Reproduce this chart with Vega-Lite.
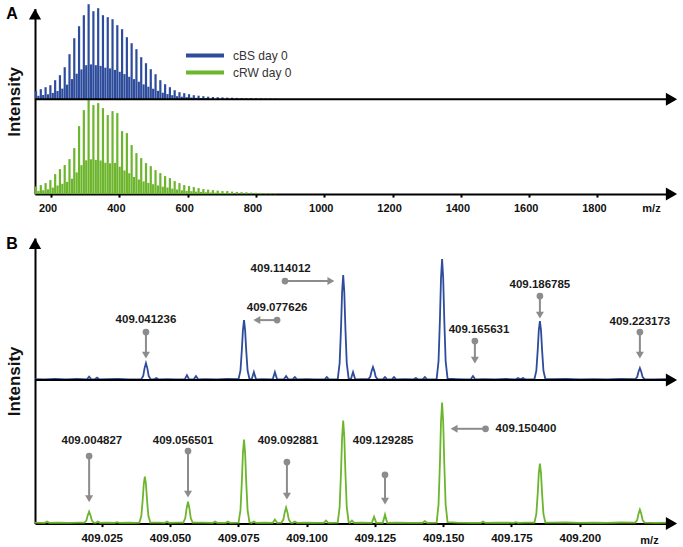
{
"$schema": "https://vega.github.io/schema/vega-lite/v6.json",
"background": "white",
"padding": {"left": 5, "top": 2.6, "right": 0, "bottom": 0},
"spacing": 43.5,
"bounds": "flush",
"config": {"view": {"stroke": null}, "font": "Liberation Sans", "axis": {"grid": false}},
"datasets": {
"cbsA": [
{"mz":156,"intensity":8},{"mz":170,"intensity":10},{"mz":184,"intensity":12},{"mz":198,"intensity":14},{"mz":212,"intensity":19},{"mz":226,"intensity":24},{"mz":240,"intensity":32},{"mz":254,"intensity":45},{"mz":268,"intensity":61},{"mz":282,"intensity":73},{"mz":296,"intensity":84},{"mz":310,"intensity":95},{"mz":324,"intensity":88},{"mz":338,"intensity":91},{"mz":352,"intensity":84},{"mz":366,"intensity":82},{"mz":380,"intensity":80},{"mz":394,"intensity":74},{"mz":408,"intensity":70},{"mz":422,"intensity":62},{"mz":436,"intensity":56},{"mz":450,"intensity":50},{"mz":464,"intensity":42},{"mz":478,"intensity":36},{"mz":492,"intensity":30},{"mz":506,"intensity":25},{"mz":520,"intensity":19},{"mz":534,"intensity":15},{"mz":548,"intensity":12},{"mz":562,"intensity":9},{"mz":576,"intensity":7},{"mz":590,"intensity":6},{"mz":604,"intensity":5},{"mz":618,"intensity":4},{"mz":632,"intensity":3.5},{"mz":646,"intensity":3},{"mz":660,"intensity":2.5},{"mz":674,"intensity":2.2},{"mz":688,"intensity":2},{"mz":702,"intensity":1.8},{"mz":716,"intensity":1.6},{"mz":730,"intensity":1.5},{"mz":744,"intensity":1.3},{"mz":758,"intensity":1.2},{"mz":772,"intensity":1},{"mz":786,"intensity":1},{"mz":800,"intensity":0.9},{"mz":814,"intensity":0.8},{"mz":828,"intensity":0.7},{"mz":842,"intensity":0.6},{"mz":856,"intensity":0.5},
{"mz":163,"intensity":3.4},{"mz":177,"intensity":4.2},{"mz":191,"intensity":4.9},{"mz":205,"intensity":6.3},{"mz":219,"intensity":8.2},{"mz":233,"intensity":10.6},{"mz":247,"intensity":14.6},{"mz":261,"intensity":20.1},{"mz":275,"intensity":25.5},{"mz":289,"intensity":29.8},{"mz":303,"intensity":34},{"mz":317,"intensity":34.8},{"mz":331,"intensity":34},{"mz":345,"intensity":33.3},{"mz":359,"intensity":31.5},{"mz":373,"intensity":30.8},{"mz":387,"intensity":29.3},{"mz":401,"intensity":27.4},{"mz":415,"intensity":25.1},{"mz":429,"intensity":22.4},{"mz":443,"intensity":20.1},{"mz":457,"intensity":17.5},{"mz":471,"intensity":14.8},{"mz":485,"intensity":12.5},{"mz":499,"intensity":10.5},{"mz":513,"intensity":8.4},{"mz":527,"intensity":6.5},{"mz":541,"intensity":5.1},{"mz":555,"intensity":4},{"mz":569,"intensity":3},{"mz":583,"intensity":2.5},{"mz":597,"intensity":2.1},{"mz":611,"intensity":1.7},{"mz":625,"intensity":1.4},{"mz":639,"intensity":1.2},{"mz":653,"intensity":1}
],
"crwA": [
{"mz":156,"intensity":7.7},{"mz":170,"intensity":9},{"mz":184,"intensity":11},{"mz":198,"intensity":14},{"mz":212,"intensity":20},{"mz":226,"intensity":25},{"mz":240,"intensity":29},{"mz":254,"intensity":35},{"mz":268,"intensity":46},{"mz":282,"intensity":68},{"mz":296,"intensity":84},{"mz":310,"intensity":94},{"mz":324,"intensity":89},{"mz":338,"intensity":91},{"mz":352,"intensity":86},{"mz":366,"intensity":79},{"mz":380,"intensity":83},{"mz":394,"intensity":81},{"mz":408,"intensity":63},{"mz":422,"intensity":61},{"mz":436,"intensity":49},{"mz":450,"intensity":41},{"mz":464,"intensity":36},{"mz":478,"intensity":31},{"mz":492,"intensity":28},{"mz":506,"intensity":24},{"mz":520,"intensity":21},{"mz":534,"intensity":18},{"mz":548,"intensity":16},{"mz":562,"intensity":13},{"mz":576,"intensity":11},{"mz":590,"intensity":9},{"mz":604,"intensity":8},{"mz":618,"intensity":7},{"mz":632,"intensity":6},{"mz":646,"intensity":5},{"mz":660,"intensity":4.5},{"mz":674,"intensity":4},{"mz":688,"intensity":3.5},{"mz":702,"intensity":3},{"mz":716,"intensity":3},{"mz":730,"intensity":2.5},{"mz":744,"intensity":2.2},{"mz":758,"intensity":2},{"mz":772,"intensity":1.8},{"mz":786,"intensity":1.5},{"mz":800,"intensity":1.3},{"mz":814,"intensity":1.2},{"mz":828,"intensity":1},{"mz":842,"intensity":1},{"mz":856,"intensity":0.8},
{"mz":163,"intensity":3.2},{"mz":177,"intensity":3.8},{"mz":191,"intensity":4.8},{"mz":205,"intensity":6.5},{"mz":219,"intensity":8.6},{"mz":233,"intensity":10.3},{"mz":247,"intensity":12.2},{"mz":261,"intensity":15.4},{"mz":275,"intensity":21.7},{"mz":289,"intensity":28.9},{"mz":303,"intensity":33.8},{"mz":317,"intensity":34.8},{"mz":331,"intensity":34.2},{"mz":345,"intensity":33.6},{"mz":359,"intensity":31.4},{"mz":373,"intensity":30.8},{"mz":387,"intensity":31.2},{"mz":401,"intensity":27.4},{"mz":415,"intensity":23.6},{"mz":429,"intensity":20.9},{"mz":443,"intensity":17.1},{"mz":457,"intensity":14.6},{"mz":471,"intensity":12.7},{"mz":485,"intensity":11.2},{"mz":499,"intensity":9.9},{"mz":513,"intensity":8.6},{"mz":527,"intensity":7.4},{"mz":541,"intensity":6.5},{"mz":555,"intensity":5.5},{"mz":569,"intensity":4.6},{"mz":583,"intensity":3.8},{"mz":597,"intensity":3.2},{"mz":611,"intensity":2.9},{"mz":625,"intensity":2.5},{"mz":639,"intensity":2.1},{"mz":653,"intensity":1.8},{"mz":667,"intensity":1.6},{"mz":681,"intensity":1.4},{"mz":695,"intensity":1.2},{"mz":709,"intensity":1.1},{"mz":723,"intensity":1}
],
"cbsB": [
{"mz":409.0006,"intensity":1},{"mz":409.0040,"intensity":0.7},{"mz":409.0080,"intensity":1.1},{"mz":409.0120,"intensity":0.8},{"mz":409.0160,"intensity":1.1},{"mz":409.0196,"intensity":0.8},{"mz":409.0204,"intensity":3.5},{"mz":409.0212,"intensity":0.8},{"mz":409.0225,"intensity":0.8},{"mz":409.0233,"intensity":2.5},{"mz":409.0241,"intensity":0.8},{"mz":409.0270,"intensity":0.9},{"mz":409.0310,"intensity":1.2},{"mz":409.0350,"intensity":0.8},{"mz":409.0395,"intensity":1},{"mz":409.0402,"intensity":4.2},{"mz":409.0407,"intensity":12},{"mz":409.0412,"intensity":17},{"mz":409.0417,"intensity":12},{"mz":409.0422,"intensity":4.2},{"mz":409.0429,"intensity":1},{"mz":409.0442,"intensity":0.8},{"mz":409.0450,"intensity":2},{"mz":409.0458,"intensity":0.8},{"mz":409.0490,"intensity":1},{"mz":409.0520,"intensity":0.7},{"mz":409.0554,"intensity":0.8},{"mz":409.0562,"intensity":5},{"mz":409.0570,"intensity":0.8},{"mz":409.0587,"intensity":0.8},{"mz":409.0595,"intensity":4},{"mz":409.0603,"intensity":0.8},{"mz":409.0630,"intensity":1},{"mz":409.0670,"intensity":0.8},{"mz":409.0710,"intensity":1.1},{"mz":409.0751,"intensity":1},{"mz":409.0758,"intensity":9.6},{"mz":409.0763,"intensity":30},{"mz":409.0767,"intensity":50},{"mz":409.0771,"intensity":60},{"mz":409.0775,"intensity":50},{"mz":409.0779,"intensity":30},{"mz":409.0784,"intensity":9.6},{"mz":409.0791,"intensity":1.2},{"mz":409.0799,"intensity":0.8},{"mz":409.0807,"intensity":8},{"mz":409.0815,"intensity":0.8},{"mz":409.0840,"intensity":1},{"mz":409.0876,"intensity":0.8},{"mz":409.0884,"intensity":8},{"mz":409.0892,"intensity":0.8},{"mz":409.0917,"intensity":0.8},{"mz":409.0925,"intensity":4},{"mz":409.0933,"intensity":0.8},{"mz":409.0949,"intensity":0.8},{"mz":409.0957,"intensity":3},{"mz":409.0965,"intensity":0.8},{"mz":409.1000,"intensity":1},{"mz":409.1030,"intensity":0.8},{"mz":409.1066,"intensity":0.8},{"mz":409.1074,"intensity":3},{"mz":409.1082,"intensity":0.8},{"mz":409.1114,"intensity":1},{"mz":409.1121,"intensity":17},{"mz":409.1126,"intensity":52},{"mz":409.1130,"intensity":88},{"mz":409.1134,"intensity":105},{"mz":409.1138,"intensity":88},{"mz":409.1142,"intensity":52},{"mz":409.1147,"intensity":17},{"mz":409.1154,"intensity":1.5},{"mz":409.1162,"intensity":0.8},{"mz":409.1170,"intensity":8},{"mz":409.1178,"intensity":0.8},{"mz":409.1200,"intensity":1},{"mz":409.1226,"intensity":1},{"mz":409.1233,"intensity":3.3},{"mz":409.1238,"intensity":9},{"mz":409.1243,"intensity":13},{"mz":409.1248,"intensity":9},{"mz":409.1253,"intensity":3.3},{"mz":409.1260,"intensity":1},{"mz":409.1279,"intensity":0.8},{"mz":409.1287,"intensity":3},{"mz":409.1295,"intensity":0.8},{"mz":409.1312,"intensity":0.8},{"mz":409.1320,"intensity":3},{"mz":409.1328,"intensity":0.8},{"mz":409.1360,"intensity":1},{"mz":409.1392,"intensity":0.8},{"mz":409.1400,"intensity":2},{"mz":409.1408,"intensity":0.8},{"mz":409.1425,"intensity":0.8},{"mz":409.1433,"intensity":3},{"mz":409.1441,"intensity":0.8},{"mz":409.1476,"intensity":1},{"mz":409.1483,"intensity":19},{"mz":409.1488,"intensity":60},{"mz":409.1492,"intensity":102},{"mz":409.1496,"intensity":121},{"mz":409.1500,"intensity":102},{"mz":409.1504,"intensity":60},{"mz":409.1509,"intensity":19},{"mz":409.1516,"intensity":1.5},{"mz":409.1550,"intensity":1},{"mz":409.1580,"intensity":0.7},{"mz":409.1601,"intensity":0.8},{"mz":409.1609,"intensity":4},{"mz":409.1617,"intensity":0.8},{"mz":409.1650,"intensity":1},{"mz":409.1690,"intensity":0.8},{"mz":409.1730,"intensity":1.1},{"mz":409.1766,"intensity":0.8},{"mz":409.1774,"intensity":2},{"mz":409.1783,"intensity":0.8},{"mz":409.1792,"intensity":2},{"mz":409.1800,"intensity":0.8},{"mz":409.1834,"intensity":1},{"mz":409.1841,"intensity":9.4},{"mz":409.1846,"intensity":30},{"mz":409.1850,"intensity":50},{"mz":409.1854,"intensity":59},{"mz":409.1858,"intensity":50},{"mz":409.1862,"intensity":30},{"mz":409.1867,"intensity":9.4},{"mz":409.1874,"intensity":1},{"mz":409.1900,"intensity":0.9},{"mz":409.1950,"intensity":1.2},{"mz":409.2000,"intensity":0.8},{"mz":409.2050,"intensity":1},{"mz":409.2100,"intensity":0.8},{"mz":409.2150,"intensity":1.1},{"mz":409.2203,"intensity":1},{"mz":409.2210,"intensity":3},{"mz":409.2215,"intensity":8.4},{"mz":409.2220,"intensity":12},{"mz":409.2225,"intensity":8.4},{"mz":409.2230,"intensity":3},{"mz":409.2237,"intensity":1},{"mz":409.2270,"intensity":0.8},{"mz":409.2310,"intensity":1},{"mz":409.2336,"intensity":0.8}
],
"crwB": [
{"mz":409.0006,"intensity":1},{"mz":409.0030,"intensity":0.8},{"mz":409.0042,"intensity":0.8},{"mz":409.0050,"intensity":2},{"mz":409.0058,"intensity":0.8},{"mz":409.0090,"intensity":1},{"mz":409.0130,"intensity":0.8},{"mz":409.0170,"intensity":1},{"mz":409.0187,"intensity":1},{"mz":409.0194,"intensity":3},{"mz":409.0199,"intensity":8.4},{"mz":409.0204,"intensity":12},{"mz":409.0209,"intensity":8.4},{"mz":409.0214,"intensity":3},{"mz":409.0221,"intensity":1},{"mz":409.0228,"intensity":0.8},{"mz":409.0236,"intensity":2},{"mz":409.0244,"intensity":0.8},{"mz":409.0270,"intensity":1},{"mz":409.0298,"intensity":0.8},{"mz":409.0306,"intensity":1.5},{"mz":409.0314,"intensity":0.8},{"mz":409.0350,"intensity":1},{"mz":409.0375,"intensity":0.8},{"mz":409.0388,"intensity":1},{"mz":409.0395,"intensity":7.5},{"mz":409.0400,"intensity":23.5},{"mz":409.0404,"intensity":39.5},{"mz":409.0408,"intensity":47},{"mz":409.0412,"intensity":39.5},{"mz":409.0416,"intensity":23.5},{"mz":409.0421,"intensity":7.5},{"mz":409.0428,"intensity":1},{"mz":409.0460,"intensity":0.9},{"mz":409.0481,"intensity":0.8},{"mz":409.0489,"intensity":2},{"mz":409.0497,"intensity":0.8},{"mz":409.0530,"intensity":1},{"mz":409.0549,"intensity":1},{"mz":409.0556,"intensity":5.5},{"mz":409.0561,"intensity":15.4},{"mz":409.0566,"intensity":22},{"mz":409.0571,"intensity":15.4},{"mz":409.0576,"intensity":5.5},{"mz":409.0583,"intensity":1},{"mz":409.0620,"intensity":0.9},{"mz":409.0657,"intensity":0.8},{"mz":409.0665,"intensity":2},{"mz":409.0673,"intensity":0.8},{"mz":409.0704,"intensity":0.8},{"mz":409.0712,"intensity":2},{"mz":409.0720,"intensity":0.8},{"mz":409.0751,"intensity":1},{"mz":409.0758,"intensity":13.4},{"mz":409.0763,"intensity":42},{"mz":409.0767,"intensity":70.6},{"mz":409.0771,"intensity":84},{"mz":409.0775,"intensity":70.6},{"mz":409.0779,"intensity":42},{"mz":409.0784,"intensity":13.4},{"mz":409.0791,"intensity":1.2},{"mz":409.0799,"intensity":0.8},{"mz":409.0807,"intensity":2},{"mz":409.0815,"intensity":0.8},{"mz":409.0850,"intensity":1},{"mz":409.0876,"intensity":0.8},{"mz":409.0884,"intensity":4},{"mz":409.0892,"intensity":0.8},{"mz":409.0908,"intensity":1},{"mz":409.0915,"intensity":4},{"mz":409.0920,"intensity":11.2},{"mz":409.0925,"intensity":16},{"mz":409.0930,"intensity":11.2},{"mz":409.0935,"intensity":4},{"mz":409.0942,"intensity":1},{"mz":409.0949,"intensity":0.8},{"mz":409.0957,"intensity":2},{"mz":409.0965,"intensity":0.8},{"mz":409.1000,"intensity":1},{"mz":409.1040,"intensity":0.8},{"mz":409.1063,"intensity":0.8},{"mz":409.1071,"intensity":3},{"mz":409.1079,"intensity":0.8},{"mz":409.1114,"intensity":1},{"mz":409.1121,"intensity":16.5},{"mz":409.1126,"intensity":51.5},{"mz":409.1130,"intensity":86.5},{"mz":409.1134,"intensity":103},{"mz":409.1138,"intensity":86.5},{"mz":409.1142,"intensity":51.5},{"mz":409.1147,"intensity":16.5},{"mz":409.1154,"intensity":1.5},{"mz":409.1158,"intensity":0.8},{"mz":409.1166,"intensity":3},{"mz":409.1174,"intensity":0.8},{"mz":409.1200,"intensity":1},{"mz":409.1239,"intensity":0.8},{"mz":409.1247,"intensity":7},{"mz":409.1255,"intensity":0.8},{"mz":409.1279,"intensity":0.8},{"mz":409.1287,"intensity":9},{"mz":409.1295,"intensity":0.8},{"mz":409.1330,"intensity":1},{"mz":409.1380,"intensity":0.8},{"mz":409.1425,"intensity":0.8},{"mz":409.1433,"intensity":2.5},{"mz":409.1441,"intensity":0.8},{"mz":409.1476,"intensity":1},{"mz":409.1483,"intensity":19},{"mz":409.1488,"intensity":60},{"mz":409.1492,"intensity":102},{"mz":409.1496,"intensity":121},{"mz":409.1500,"intensity":102},{"mz":409.1504,"intensity":60},{"mz":409.1509,"intensity":19},{"mz":409.1516,"intensity":1.5},{"mz":409.1550,"intensity":1},{"mz":409.1600,"intensity":0.8},{"mz":409.1638,"intensity":0.8},{"mz":409.1646,"intensity":2},{"mz":409.1654,"intensity":0.8},{"mz":409.1700,"intensity":1},{"mz":409.1758,"intensity":0.8},{"mz":409.1766,"intensity":1.5},{"mz":409.1774,"intensity":0.8},{"mz":409.1800,"intensity":1},{"mz":409.1834,"intensity":1},{"mz":409.1841,"intensity":9.6},{"mz":409.1846,"intensity":30},{"mz":409.1850,"intensity":50.4},{"mz":409.1854,"intensity":60},{"mz":409.1858,"intensity":50.4},{"mz":409.1862,"intensity":30},{"mz":409.1867,"intensity":9.6},{"mz":409.1874,"intensity":1},{"mz":409.1900,"intensity":0.9},{"mz":409.1950,"intensity":1.1},{"mz":409.2000,"intensity":0.8},{"mz":409.2050,"intensity":1},{"mz":409.2100,"intensity":0.8},{"mz":409.2150,"intensity":1.1},{"mz":409.2203,"intensity":1},{"mz":409.2210,"intensity":3.5},{"mz":409.2215,"intensity":9.8},{"mz":409.2220,"intensity":14},{"mz":409.2225,"intensity":9.8},{"mz":409.2230,"intensity":3.5},{"mz":409.2237,"intensity":1},{"mz":409.2280,"intensity":0.8},{"mz":409.2336,"intensity":1}
],
"annBlue": [
{"label":"409.041236","lx":409.0412,"ly":60,"cx":409.0412,"cy":48,"tx":409.0412,"ty":25,"dir":"down"},
{"label":"409.077626","lx":409.0892,"ly":72,"cx":409.0892,"cy":60,"tx":409.0818,"ty":60,"dir":"left"},
{"label":"409.114012","lx":409.0905,"ly":111,"cx":409.0921,"cy":99,"tx":409.1089,"ty":99,"dir":"right"},
{"label":"409.165631","lx":409.1631,"ly":50,"cx":409.1616,"cy":39,"tx":409.1616,"ty":20,"dir":"down"},
{"label":"409.186785","lx":409.1854,"ly":95,"cx":409.1854,"cy":84,"tx":409.1854,"ty":65,"dir":"down"},
{"label":"409.223173","lx":409.2220,"ly":58,"cx":409.2220,"cy":48,"tx":409.2220,"ty":25,"dir":"down"}
],
"annGreen": [
{"label":"409.004827","lx":409.0214,"ly":82.5,"cx":409.0204,"cy":67.5,"tx":409.0204,"ty":24.8,"dir":"down"},
{"label":"409.056501","lx":409.0548,"ly":82.5,"cx":409.0566,"cy":72.5,"tx":409.0566,"ty":29.5,"dir":"down"},
{"label":"409.092881","lx":409.0932,"ly":82.5,"cx":409.0928,"cy":61.5,"tx":409.0928,"ty":27.5,"dir":"down"},
{"label":"409.129285","lx":409.1280,"ly":82.5,"cx":409.1287,"cy":48.8,"tx":409.1287,"ty":22.5,"dir":"down"},
{"label":"409.150400","lx":409.1803,"ly":94.8,"cx":409.1655,"cy":94.8,"tx":409.1540,"ty":94.8,"dir":"left"}
]
},
"vconcat": [
{
"width": 636.5, "height": 185.5,
"resolve": {"scale": {"y": "independent"}, "axis": {"y": "independent", "x": "independent"}},
"layer": [
{"data": {"name": "crwA"}, "mark": {"type": "rule", "strokeWidth": 2.2},
 "encoding": {
  "x": {"field": "mz", "type": "quantitative", "scale": {"domain": [153, 2016.8], "nice": false, "zero": false},
   "axis": {"orient": "bottom", "values": [200,400,600,800,1000,1200,1400,1600,1800], "format": "d", "domain": true, "domainColor": "black", "domainWidth": 2, "ticks": true, "tickColor": "black", "tickWidth": 2, "tickSize": 3, "labelFontSize": 11, "labelFontWeight": "bold", "labelColor": "#111111", "labelPadding": 5, "labelOffset": -3.5, "labelOverlap": false, "labelFlush": false, "title": "m/z", "titleFontSize": 11, "titleFontWeight": "bold", "titleColor": "#111111", "titleX": 616, "titleY": 14.5, "titleAlign": "center", "titleBaseline": "middle", "titleAngle": 0}},
  "y": {"field": "intensity", "type": "quantitative", "scale": {"domain": [0, 185.5], "nice": false, "zero": false},
   "axis": {"orient": "left", "domain": true, "domainColor": "black", "domainWidth": 2, "ticks": false, "labels": false, "grid": false, "title": "Intensity", "titleFontSize": 17, "titleFontWeight": "bold", "titleColor": "#111111", "titlePadding": 12}},
  "y2": {"datum": 0},
  "color": {"datum": "cRW  day 0", "type": "nominal",
   "scale": {"domain": ["cBS day 0", "cRW  day 0"], "range": ["#2e4c9c", "#6cb52d"]},
   "legend": {"orient": "none", "legendX": 149, "legendY": 40, "title": null, "symbolType": "stroke", "symbolStrokeWidth": 4, "symbolSize": 1444, "labelFontSize": 12, "labelColor": "#333333", "labelFont": "Liberation Sans", "labelOffset": 7, "clipHeight": 14, "rowPadding": 3, "padding": 0, "symbolOpacity": 1}}
 }},
{"data": {"name": "cbsA"}, "mark": {"type": "rule", "strokeWidth": 2.2},
 "encoding": {
  "x": {"field": "mz", "type": "quantitative", "scale": {"domain": [153, 2016.8], "nice": false, "zero": false}, "axis": null},
  "y": {"field": "intensity", "type": "quantitative", "scale": {"domain": [-94.9, 90.6], "nice": false, "zero": false}, "axis": null},
  "y2": {"datum": 0},
  "color": {"datum": "cBS day 0", "type": "nominal"}
 }},
{"data": {"values": [{}]}, "mark": {"type": "rule", "color": "black", "strokeWidth": 2},
 "encoding": {"y": {"datum": 0, "type": "quantitative", "scale": {"domain": [-94.9, 90.6], "nice": false, "zero": false}, "axis": null}}},
{"data": {"values": [{}]}, "mark": {"type": "point", "shape": "triangle-right", "filled": true, "color": "black", "opacity": 1, "size": 170},
 "encoding": {"x": {"datum": 2016.8, "type": "quantitative", "axis": null}, "y": {"datum": 0, "type": "quantitative", "scale": {"domain": [-94.9, 90.6], "nice": false, "zero": false}, "axis": null}}},
{"data": {"values": [{}]}, "mark": {"type": "point", "shape": "triangle-right", "filled": true, "color": "black", "opacity": 1, "size": 170},
 "encoding": {"x": {"datum": 2016.8, "type": "quantitative", "axis": null}, "y": {"datum": 0, "type": "quantitative", "scale": {"domain": [0, 185.5], "nice": false, "zero": false}, "axis": null}}},
{"data": {"values": [{}]}, "mark": {"type": "point", "shape": "triangle-up", "filled": true, "color": "black", "opacity": 1, "size": 150},
 "encoding": {"x": {"datum": 153, "type": "quantitative", "axis": null}, "y": {"datum": 180, "type": "quantitative", "scale": {"domain": [0, 185.5], "nice": false, "zero": false}, "axis": null}}},
{"data": {"values": [{"panel": "A"}]}, "mark": {"type": "text", "fontSize": 16, "fontWeight": "bold", "align": "center", "baseline": "middle", "color": "black"},
 "encoding": {"x": {"datum": 85.6, "type": "quantitative", "axis": null}, "y": {"datum": 180, "type": "quantitative", "scale": {"domain": [0, 185.5], "nice": false, "zero": false}, "axis": null}, "text": {"field": "panel"}}}
]
},
{
"width": 636.5, "height": 285.5,
"resolve": {"scale": {"y": "independent"}, "axis": {"y": "independent", "x": "independent"}},
"layer": [
{"data": {"name": "crwB"}, "mark": {"type": "line", "color": "#6cb52d", "strokeWidth": 1.8},
 "encoding": {
  "x": {"field": "mz", "type": "quantitative", "scale": {"domain": [409.00059, 409.23357], "nice": false, "zero": false},
   "axis": {"orient": "bottom", "values": [409.025, 409.05, 409.075, 409.1, 409.125, 409.15, 409.175, 409.2], "format": ".3f", "domain": true, "domainColor": "black", "domainWidth": 2, "ticks": true, "tickColor": "black", "tickWidth": 2, "tickSize": 3, "labelFontSize": 11.5, "labelFontWeight": "bold", "labelColor": "#111111", "labelPadding": 6, "labelOverlap": false, "labelFlush": false, "title": "m/z", "titleFontSize": 11, "titleFontWeight": "bold", "titleColor": "#111111", "titleX": 614, "titleY": 16.5, "titleAlign": "center", "titleBaseline": "middle", "titleAngle": 0}},
  "y": {"field": "intensity", "type": "quantitative", "scale": {"domain": [0, 285.5], "nice": false, "zero": false},
   "axis": {"orient": "left", "domain": true, "domainColor": "black", "domainWidth": 2, "ticks": false, "labels": false, "grid": false, "title": "Intensity", "titleFontSize": 17, "titleFontWeight": "bold", "titleColor": "#111111", "titlePadding": 12}}
 }},
{"data": {"name": "cbsB"}, "mark": {"type": "line", "color": "#2e4c9c", "strokeWidth": 1.8},
 "encoding": {
  "x": {"field": "mz", "type": "quantitative", "scale": {"domain": [409.00059, 409.23357], "nice": false, "zero": false}, "axis": null},
  "y": {"field": "intensity", "type": "quantitative", "scale": {"domain": [-143.5, 142], "nice": false, "zero": false}, "axis": null}
 }},
{"data": {"values": [{}]}, "mark": {"type": "rule", "color": "black", "strokeWidth": 2},
 "encoding": {"y": {"datum": 0, "type": "quantitative", "scale": {"domain": [-143.5, 142], "nice": false, "zero": false}, "axis": null}}},
{"data": {"values": [{}]}, "mark": {"type": "point", "shape": "triangle-right", "filled": true, "color": "black", "opacity": 1, "size": 170},
 "encoding": {"x": {"datum": 409.23357, "type": "quantitative", "axis": null}, "y": {"datum": 0, "type": "quantitative", "scale": {"domain": [-143.5, 142], "nice": false, "zero": false}, "axis": null}}},
{"data": {"values": [{}]}, "mark": {"type": "point", "shape": "triangle-right", "filled": true, "color": "black", "opacity": 1, "size": 170},
 "encoding": {"x": {"datum": 409.23357, "type": "quantitative", "axis": null}, "y": {"datum": 0, "type": "quantitative", "scale": {"domain": [0, 285.5], "nice": false, "zero": false}, "axis": null}}},
{"data": {"values": [{}]}, "mark": {"type": "point", "shape": "triangle-up", "filled": true, "color": "black", "opacity": 1, "size": 150},
 "encoding": {"x": {"datum": 409.00059, "type": "quantitative", "axis": null}, "y": {"datum": 280, "type": "quantitative", "scale": {"domain": [0, 285.5], "nice": false, "zero": false}, "axis": null}}},
{"data": {"values": [{"panel": "B"}]}, "mark": {"type": "text", "fontSize": 16, "fontWeight": "bold", "align": "center", "baseline": "middle", "color": "black"},
 "encoding": {"x": {"datum": 408.99217, "type": "quantitative", "axis": null}, "y": {"datum": 280, "type": "quantitative", "scale": {"domain": [0, 285.5], "nice": false, "zero": false}, "axis": null}, "text": {"field": "panel"}}},
{"data": {"name": "annBlue"}, "mark": {"type": "rule", "color": "#8c8c8c", "strokeWidth": 2},
 "encoding": {"x": {"field": "cx", "type": "quantitative", "axis": null}, "y": {"field": "cy", "type": "quantitative", "scale": {"domain": [-143.5, 142], "nice": false, "zero": false}, "axis": null}, "x2": {"field": "tx"}, "y2": {"field": "ty"}}},
{"data": {"name": "annBlue"}, "mark": {"type": "point", "shape": "circle", "filled": true, "color": "#8c8c8c", "opacity": 1, "size": 45},
 "encoding": {"x": {"field": "cx", "type": "quantitative", "axis": null}, "y": {"field": "cy", "type": "quantitative", "scale": {"domain": [-143.5, 142], "nice": false, "zero": false}, "axis": null}}},
{"data": {"name": "annBlue"}, "mark": {"type": "point", "filled": true, "color": "#8c8c8c", "opacity": 1, "size": 64},
 "encoding": {"x": {"field": "tx", "type": "quantitative", "axis": null}, "y": {"field": "ty", "type": "quantitative", "scale": {"domain": [-143.5, 142], "nice": false, "zero": false}, "axis": null},
  "shape": {"field": "dir", "type": "nominal", "scale": {"domain": ["down", "left", "right"], "range": ["triangle-down", "triangle-left", "triangle-right"]}, "legend": null}}},
{"data": {"name": "annBlue"}, "mark": {"type": "text", "fontSize": 11.5, "fontWeight": "bold", "align": "center", "baseline": "middle", "color": "#1a1a1a"},
 "encoding": {"x": {"field": "lx", "type": "quantitative", "axis": null}, "y": {"field": "ly", "type": "quantitative", "scale": {"domain": [-143.5, 142], "nice": false, "zero": false}, "axis": null}, "text": {"field": "label"}}},
{"data": {"name": "annGreen"}, "mark": {"type": "rule", "color": "#8c8c8c", "strokeWidth": 2},
 "encoding": {"x": {"field": "cx", "type": "quantitative", "axis": null}, "y": {"field": "cy", "type": "quantitative", "scale": {"domain": [0, 285.5], "nice": false, "zero": false}, "axis": null}, "x2": {"field": "tx"}, "y2": {"field": "ty"}}},
{"data": {"name": "annGreen"}, "mark": {"type": "point", "shape": "circle", "filled": true, "color": "#8c8c8c", "opacity": 1, "size": 45},
 "encoding": {"x": {"field": "cx", "type": "quantitative", "axis": null}, "y": {"field": "cy", "type": "quantitative", "scale": {"domain": [0, 285.5], "nice": false, "zero": false}, "axis": null}}},
{"data": {"name": "annGreen"}, "mark": {"type": "point", "filled": true, "color": "#8c8c8c", "opacity": 1, "size": 64},
 "encoding": {"x": {"field": "tx", "type": "quantitative", "axis": null}, "y": {"field": "ty", "type": "quantitative", "scale": {"domain": [0, 285.5], "nice": false, "zero": false}, "axis": null},
  "shape": {"field": "dir", "type": "nominal", "legend": null}}},
{"data": {"name": "annGreen"}, "mark": {"type": "text", "fontSize": 11.5, "fontWeight": "bold", "align": "center", "baseline": "middle", "color": "#1a1a1a"},
 "encoding": {"x": {"field": "lx", "type": "quantitative", "axis": null}, "y": {"field": "ly", "type": "quantitative", "scale": {"domain": [0, 285.5], "nice": false, "zero": false}, "axis": null}, "text": {"field": "label"}}}
]
}
]
}
